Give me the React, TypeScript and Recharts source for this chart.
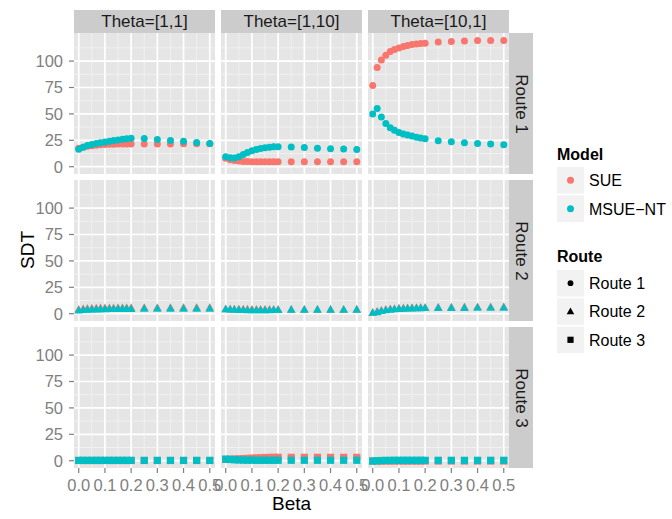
import React from "react";
import {
  CartesianGrid,
  ReferenceLine,
  Scatter,
  ScatterChart,
  XAxis,
  YAxis,
} from "recharts";

// beta values shared by every panel
const BETA = [
  0, 0.017, 0.033, 0.05, 0.067, 0.083, 0.1, 0.117, 0.133, 0.15, 0.167, 0.183,
  0.2, 0.25, 0.3, 0.35, 0.4, 0.45, 0.5,
];

const THETAS = ["Theta=[1,1]", "Theta=[1,10]", "Theta=[10,1]"];
const ROUTES = ["Route 1", "Route 2", "Route 3"];
const MODELS = ["SUE", "MSUE\u2212NT"];

const X_TICKS = [0, 0.1, 0.2, 0.3, 0.4, 0.5];
const X_MINOR = [0.05, 0.15, 0.25, 0.35, 0.45];
const Y_TICKS = [0, 25, 50, 75, 100];
const Y_MINOR = [12.5, 37.5, 62.5, 87.5, 112.5];

// SDT, route 1
const r1t11Sue = [17.5, 18.5, 19.3, 19.8, 20.3, 20.7, 21, 21.2, 21.3, 21.4, 21.5, 21.5, 21.5, 21.6, 21.6, 21.6, 21.7, 21.7, 21.8];
const r1t11Msue = [16.5, 18.5, 20, 21, 22, 22.8, 23.5, 24.2, 24.8, 25.4, 26, 26.5, 27, 26.8, 25.8, 24.9, 24, 23, 22];
const r1t110Sue = [8, 6.5, 5.8, 5.3, 5, 4.9, 4.8, 4.8, 4.8, 4.8, 4.8, 4.8, 4.8, 4.8, 4.8, 4.8, 4.8, 4.8, 4.8];
const r1t110Msue = [9.5, 8.5, 8.3, 9.5, 11.5, 13.5, 15, 16.3, 17.3, 18, 18.5, 18.8, 19, 18.6, 18.2, 17.5, 17, 16.8, 16.2];
const r1t101Sue = [77, 94, 101, 105.5, 109, 111, 112.5, 113.8, 114.8, 115.6, 116.2, 116.7, 117, 118, 118.5, 119, 119.5, 119.5, 119.5];
const r1t101Msue = [50, 55, 47, 41, 37, 34.5, 32.5, 31, 30, 29, 28, 27.2, 26.5, 24.5, 23.6, 22.7, 21.9, 21.5, 20.8];

// SDT, route 2
const r2t11Sue = [4, 4.5, 4.8, 5, 5.1, 5.2, 5.3, 5.4, 5.4, 5.5, 5.5, 5.5, 5.5, 5.6, 5.6, 5.6, 5.7, 5.7, 5.7];
const r2t11Msue = [3, 3.5, 3.8, 4, 4.1, 4.2, 4.3, 4.4, 4.4, 4.5, 4.5, 4.5, 4.5, 4.8, 4.8, 4.8, 4.8, 4.8, 4.8];
const r2t110Sue = [4.3, 4.3, 4.2, 4.2, 4.1, 4.1, 4, 4, 4, 4, 4, 4, 4, 3.8, 3.8, 3.8, 3.8, 3.8, 3.8];
const r2t110Msue = [4.2, 4, 3.8, 3.6, 3.4, 3.3, 3.2, 3.2, 3.2, 3.2, 3.3, 3.4, 3.5, 3.8, 3.8, 3.8, 3.8, 3.8, 3.8];
const r2t101Sue = [1, 2, 3, 3.8, 4.3, 4.7, 5, 5.2, 5.4, 5.5, 5.6, 5.7, 5.8, 6, 6.1, 6.2, 6.3, 6.3, 6.4];
const r2t101Msue = [0.8, 1.5, 2.5, 3.3, 3.8, 4.2, 4.5, 4.7, 4.9, 5, 5.1, 5.2, 5.3, 5.4, 5.5, 5.5, 5.6, 5.6, 5.6];

// SDT, route 3
const r3t11Sue = [0.2, 0.2, 0.2, 0.2, 0.2, 0.2, 0.2, 0.2, 0.2, 0.2, 0.2, 0.2, 0.2, 0.2, 0.2, 0.2, 0.2, 0.2, 0.2];
const r3t11Msue = [0.3, 0.3, 0.3, 0.3, 0.3, 0.3, 0.3, 0.3, 0.3, 0.3, 0.3, 0.3, 0.3, 0.3, 0.3, 0.3, 0.3, 0.3, 0.3];
const r3t110Sue = [1.2, 1.4, 1.6, 1.8, 2, 2.2, 2.4, 2.6, 2.8, 3, 3.1, 3.2, 3.2, 3.2, 3.2, 3.2, 3.2, 3.2, 3.2];
const r3t110Msue = [1.5, 1.2, 0.9, 0.7, 0.6, 0.5, 0.5, 0.4, 0.4, 0.4, 0.4, 0.4, 0.4, 0.4, 0.4, 0.4, 0.4, 0.4, 0.4];
const r3t101Sue = [-0.3, -0.3, -0.3, -0.3, -0.3, -0.3, -0.3, -0.3, -0.3, -0.3, -0.3, -0.3, -0.3, -0.3, -0.3, -0.3, -0.3, -0.3, -0.3];
const r3t101Msue = [-0.3, 0, 0.2, 0.3, 0.3, 0.4, 0.4, 0.4, 0.4, 0.4, 0.4, 0.4, 0.4, 0.4, 0.4, 0.4, 0.4, 0.4, 0.4];

const PANELS = [
  [[r1t11Sue, r1t11Msue], [r1t110Sue, r1t110Msue], [r1t101Sue, r1t101Msue]],
  [[r2t11Sue, r2t11Msue], [r2t110Sue, r2t110Msue], [r2t101Sue, r2t101Msue]],
  [[r3t11Sue, r3t11Msue], [r3t110Sue, r3t110Msue], [r3t101Sue, r3t101Msue]],
];

const RED = "#F8766D";
const TEAL = "#00BFC4";
const FONT = "'Liberation Sans', Arial, sans-serif";

const COL_X = [74, 221, 368];
const ROW_Y = [33, 180, 327];
const PW = 141;
const PH = 141;
const YW = 44;
const XH = 34;
const X_DOMAIN = [-0.018, 0.52];
const Y_DOMAIN = [-6.9, 126.6];

const circle = (p: any) => <circle cx={p.cx} cy={p.cy} r={3.5} fill={p.fill} />;
const triangle = (p: any) => (
  <polygon
    points={`${p.cx},${p.cy - 4.6} ${p.cx - 4.3},${p.cy + 3} ${p.cx + 4.3},${p.cy + 3}`}
    fill={p.fill}
  />
);
const square = (p: any) => (
  <rect x={p.cx - 3.6} y={p.cy - 3.6} width={7.2} height={7.2} fill={p.fill} />
);
const SHAPES = [circle, triangle, square];

const toPoints = (vals: number[]) => BETA.map((b, i) => ({ beta: b, sdt: vals[i] }));

function Panel({ row, col }: { row: number; col: number }) {
  const showY = col === 0;
  const showX = row === 2;
  const [sue, msue] = PANELS[row][col];
  const shape = SHAPES[row];
  return (
    <div
      style={{
        position: "absolute",
        left: COL_X[col] - (showY ? YW : 0),
        top: ROW_Y[row],
      }}
    >
      <ScatterChart
        width={PW + (showY ? YW : 0)}
        height={PH + (showX ? XH : 0)}
        margin={{ top: 0, right: 0, bottom: 0, left: 0 }}
      >
        <CartesianGrid fill="#E5E5E5" fillOpacity={1} horizontal={false} vertical={false} />
        {X_MINOR.map((v) => (
          <ReferenceLine key={"xm" + v} x={v} stroke="#F2F2F2" strokeWidth={0.9} />
        ))}
        {Y_MINOR.map((v) => (
          <ReferenceLine key={"ym" + v} y={v} stroke="#F2F2F2" strokeWidth={0.9} />
        ))}
        {X_TICKS.map((v) => (
          <ReferenceLine key={"x" + v} x={v} stroke="#FFFFFF" strokeWidth={1.7} />
        ))}
        {Y_TICKS.map((v) => (
          <ReferenceLine key={"y" + v} y={v} stroke="#FFFFFF" strokeWidth={1.7} />
        ))}
        <XAxis
          type="number"
          dataKey="beta"
          domain={X_DOMAIN}
          ticks={X_TICKS}
          interval={0}
          allowDataOverflow
          hide={!showX}
          height={XH}
          axisLine={false}
          tickLine={{ stroke: "#7F7F7F", strokeWidth: 1.2 }}
          tickSize={5}
          tickMargin={6}
          tick={{ fill: "#7F7F7F", fontSize: 16.5, fontFamily: FONT }}
          tickFormatter={(v: number) => v.toFixed(1)}
        />
        <YAxis
          type="number"
          dataKey="sdt"
          domain={Y_DOMAIN}
          ticks={Y_TICKS}
          interval={0}
          allowDataOverflow
          hide={!showY}
          width={YW}
          axisLine={false}
          tickLine={{ stroke: "#7F7F7F", strokeWidth: 1.2 }}
          tickSize={5}
          tickMargin={6}
          tick={{ fill: "#7F7F7F", fontSize: 16.5, fontFamily: FONT }}
        />
        <Scatter data={toPoints(sue)} fill={RED} shape={shape} isAnimationActive={false} />
        <Scatter data={toPoints(msue)} fill={TEAL} shape={shape} isAnimationActive={false} />
      </ScatterChart>
    </div>
  );
}

function Legend() {
  const keyBox = (top: number, glyph: React.ReactNode, label: string) => (
    <g key={label}>
      <rect x={557} y={top} width={27} height={26.5} fill="#F2F2F2" />
      {glyph}
      <text x={589} y={top + 13.5} fontSize={16} dominantBaseline="central" fill="#000">
        {label}
      </text>
    </g>
  );
  const cx = 570.5;
  return (
    <svg
      width={672}
      height={519}
      style={{ position: "absolute", left: 0, top: 0, pointerEvents: "none" }}
      fontFamily={FONT}
    >
      <text x={557} y={154} fontSize={16} fontWeight="bold" dominantBaseline="central">
        Model
      </text>
      {keyBox(167, <circle cx={cx} cy={180.2} r={3.5} fill={RED} />, MODELS[0])}
      {keyBox(195.5, <circle cx={cx} cy={208.7} r={3.5} fill={TEAL} />, MODELS[1])}
      <text x={557} y={256.7} fontSize={16} fontWeight="bold" dominantBaseline="central">
        Route
      </text>
      {keyBox(270, <circle cx={cx} cy={283.2} r={2.9} fill="#000" />, ROUTES[0])}
      {keyBox(
        298.3,
        <polygon points={`${cx},${307.6} ${cx - 3.8},${314.2} ${cx + 3.8},${314.2}`} fill="#000" />,
        ROUTES[1]
      )}
      {keyBox(326.6, <rect x={cx - 3.1} y={336.7} width={6.2} height={6.2} fill="#000" />, ROUTES[2])}
    </svg>
  );
}

export default function App() {
  return (
    <div
      style={{
        position: "absolute",
        left: 0,
        top: 0,
        width: 672,
        height: 519,
        background: "#FFFFFF",
        fontFamily: FONT,
        overflow: "hidden",
      }}
    >
      <style>{`.recharts-surface{overflow:visible}`}</style>
      {THETAS.map((t, c) => (
        <div
          key={t}
          style={{
            position: "absolute",
            left: COL_X[c],
            top: 10,
            width: PW,
            height: 23,
            background: "#CCCCCC",
            color: "#1A1A1A",
            fontSize: 17,
            lineHeight: "24px",
            textAlign: "center",
          }}
        >
          {t}
        </div>
      ))}
      {ROUTES.map((r, i) => (
        <div
          key={r}
          style={{
            position: "absolute",
            left: COL_X[2] + PW,
            top: ROW_Y[i],
            width: 24,
            height: PH,
            background: "#CCCCCC",
          }}
        >
          <div
            style={{
              position: "absolute",
              left: 12,
              top: PH / 2,
              transform: "translate(-50%, -50%) rotate(90deg)",
              whiteSpace: "nowrap",
              color: "#1A1A1A",
              fontSize: 17,
            }}
          >
            {r}
          </div>
        </div>
      ))}
      {ROW_Y.map((_, r) => COL_X.map((__, c) => <Panel key={r + "-" + c} row={r} col={c} />))}
      <div
        style={{
          position: "absolute",
          left: 28,
          top: 250,
          transform: "translate(-50%, -50%) rotate(-90deg)",
          fontSize: 19,
          color: "#000",
          whiteSpace: "nowrap",
        }}
      >
        SDT
      </div>
      <div
        style={{
          position: "absolute",
          left: 291.5,
          top: 504,
          transform: "translate(-50%, -50%)",
          fontSize: 19,
          color: "#000",
          whiteSpace: "nowrap",
        }}
      >
        Beta
      </div>
      <Legend />
    </div>
  );
}
